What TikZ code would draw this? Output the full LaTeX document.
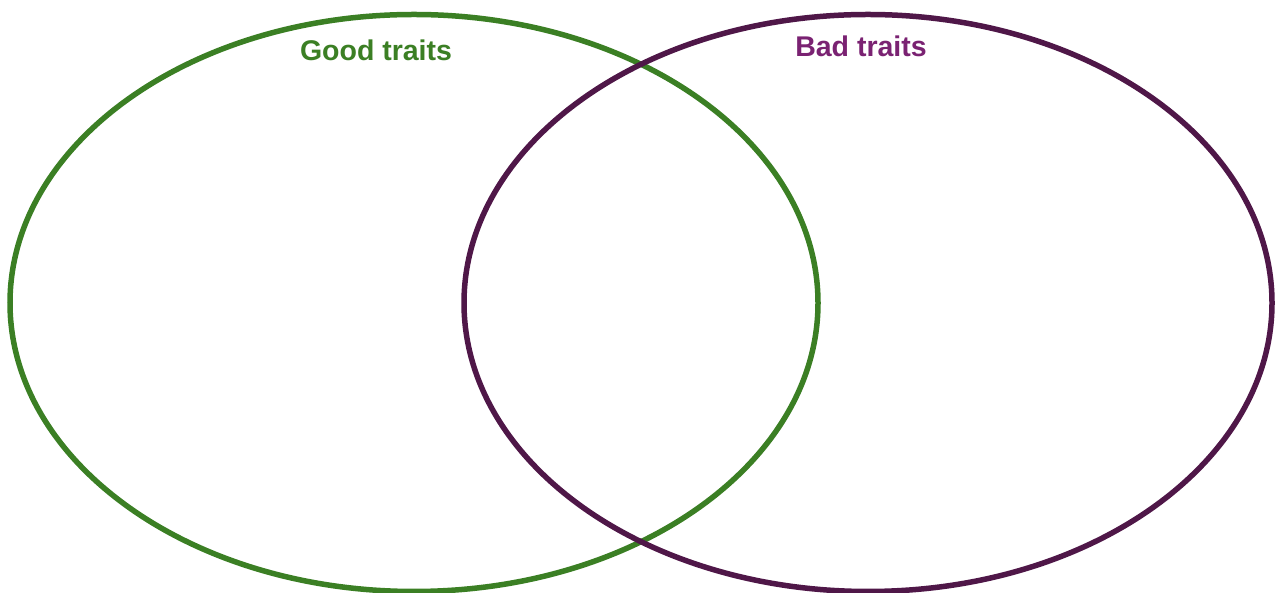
\documentclass[tikz,border=0pt]{standalone}
\usepackage{fontspec}
\setmainfont{Liberation Sans}
\usepackage{tikz}
\usetikzlibrary{shapes.geometric}

\definecolor{goodgreen}{HTML}{3B7F24}
\definecolor{badplum}{HTML}{4F1748}
\definecolor{badtext}{HTML}{7A2272}

\begin{document}
\begin{tikzpicture}
    [
      x=1pt, y=1pt,
      traitset/.style={ellipse, draw, line width=5.5pt, inner sep=0pt,
                       minimum width=808pt, minimum height=577pt},
      traitlabel/.style={anchor=base, font=\bfseries\fontsize{28.5}{30}\selectfont}
    ]
    \useasboundingbox (0,0) rectangle (1277,593);
    \node (good) [traitset, draw=goodgreen] at (414,290) {};
    \node (bad) [traitset, draw=badplum] at (868,290) {};
    \node (good-title) [traitlabel, text=goodgreen] at (376,532) {Good traits};
    \node (bad-title) [traitlabel, text=badtext] at (861,536) {Bad traits};
\end{tikzpicture}
\end{document}
